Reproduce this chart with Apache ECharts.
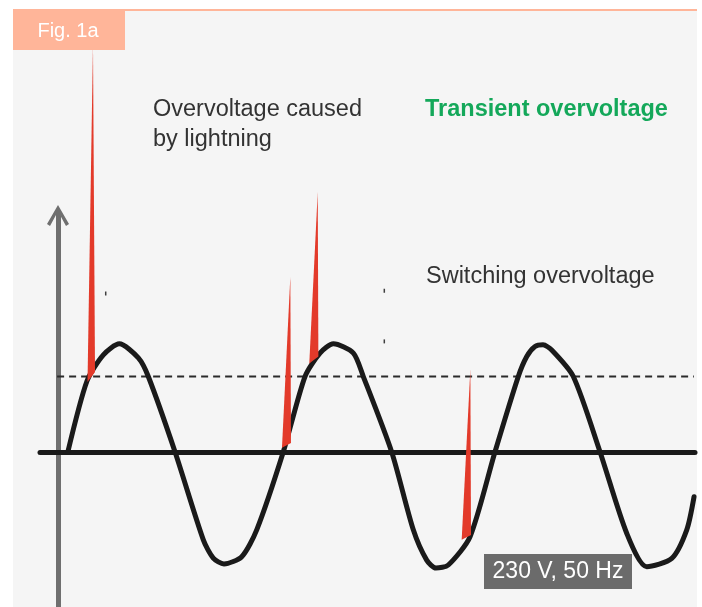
<!DOCTYPE html>
<html>
<head>
<meta charset="utf-8">
<script src="https://cdn.jsdelivr.net/npm/echarts@6/dist/echarts.min.js"></script>
<style>
  html, body { margin: 0; padding: 0; background: #fff; }
  #chart { width: 702px; height: 607px; }
</style>
</head>
<body>
<div id="chart"></div>
<script>
// mains voltage trace: time in ms, voltage in V
var waveTime = [0, 1.79, 3.32, 4.81, 6.59, 7.52, 10.02, 12.66, 13.59, 14.59, 16.25, 17.65,
  20.13, 22.16, 23.56, 24.81, 26.68, 27.61, 30.26, 32.28, 33.53, 34.40, 35.55, 37.58,
  39.91, 42.09, 42.88, 43.65, 44.40, 45.21, 47.23, 49.73, 52.22, 54.09, 56.43, 57.83, 58.51];
var waveVolt = [0, 206, 282, 314, 273, 219, 0, -255, -308, -325, -304, -226,
  0, 219, 287, 314, 287, 219, 0, -226, -314, -337, -328, -246,
  0, 219, 277, 306, 311, 296, 219, 0, -236, -333, -309, -226, -130];

// overvoltage spikes: tip, base left, base right (ms, V)
var spikeTip = [[2.35, 1180], [20.79, 509], [23.35, 755], [37.61, 240]];
var spikeBaseLeft = [[1.84, 203], [20.01, 12], [22.56, 257], [36.80, -255]];
var spikeBaseRight = [[2.54, 232], [20.85, 26], [23.41, 277], [37.67, -241]];

// dashed protection level
var levelVolt = 219;
var levelRange = [-1.0, 58.5];

// stray leader ticks left in the drawing
var stubPoints = [[3.54, 460], [29.57, 468], [29.57, 321]];

var chart = echarts.init(document.getElementById('chart'));

var waveData = waveTime.map(function (t, i) { return [t, waveVolt[i]]; });
var spikeData = spikeTip.map(function (p, i) {
  return [p[0], p[1], spikeBaseLeft[i][0], spikeBaseLeft[i][1], spikeBaseRight[i][0], spikeBaseRight[i][1]];
});

var textFont = 'Liberation Sans, Helvetica, Arial, sans-serif';

var option = {
  backgroundColor: '#fff',
  animation: false,
  grid: [
    { left: 40, right: 7, top: 0, bottom: 0 },
    { left: 58, top: 216, bottom: 0, width: 100 }
  ],
  xAxis: [{
    type: 'value', min: -2.6, max: 58.6,
    axisLine: { show: true, onZero: true, lineStyle: { color: '#1a1a1a', width: 5 } },
    axisTick: { show: false }, axisLabel: { show: false }, splitLine: { show: false }
  }, {
    gridIndex: 1, type: 'value', min: 0, max: 1, show: false
  }],
  yAxis: [{
    type: 'value', min: -450, max: 1312,
    axisLine: { show: false }, axisTick: { show: false }, axisLabel: { show: false }, splitLine: { show: false }
  }, {
    gridIndex: 1, type: 'value', min: 0, max: 1,
    axisLine: {
      show: true,
      symbol: ['none', 'path://M11,0 L22,19 L19,21 L13,10 L13,22 L9,22 L9,10 L3,21 L0,19 Z'],
      symbolSize: [22, 22],
      lineStyle: { color: '#6f6f6f', width: 5 }
    },
    axisTick: { show: false }, axisLabel: { show: false }, splitLine: { show: false }
  }],
  series: [{
    type: 'line',
    data: [[levelRange[0], levelVolt], [levelRange[1], levelVolt]],
    symbol: 'none',
    lineStyle: { color: '#2a2a2a', width: 2, type: [7, 5] },
    z: 1
  }, {
    type: 'line',
    data: waveData,
    symbol: 'none',
    smooth: 0.25,
    lineStyle: { color: '#1a1a1a', width: 5, join: 'round', cap: 'round' },
    z: 3
  }, {
    type: 'custom',
    data: spikeData,
    encode: { x: [0, 2, 4], y: [1, 3, 5] },
    renderItem: function (params, api) {
      return {
        type: 'polygon',
        shape: {
          points: [
            api.coord([api.value(0), api.value(1)]),
            api.coord([api.value(2), api.value(3)]),
            api.coord([api.value(4), api.value(5)])
          ]
        },
        style: { fill: '#e33a2a' }
      };
    },
    z: 4
  }, {
    type: 'scatter',
    data: stubPoints,
    symbol: 'rect',
    symbolSize: [1.5, 4],
    itemStyle: { color: '#111' },
    z: 2
  }],
  graphic: [
    { type: 'rect', z: -10, shape: { x: 13, y: 10, width: 684, height: 597 }, style: { fill: '#f5f5f5' } },
    { type: 'rect', z: -9, shape: { x: 13, y: 9, width: 684, height: 2 }, style: { fill: '#ffb599' } },
    { type: 'rect', z: 100, shape: { x: 13, y: 10, width: 112, height: 40 }, style: { fill: '#ffb599' } },
    { type: 'text', z: 101, style: { text: 'Fig. 1a', x: 68, y: 31, textAlign: 'center', textVerticalAlign: 'middle', font: '20px ' + textFont, fill: '#fff' } },
    { type: 'text', z: 101, style: { text: 'Overvoltage caused\nby lightning', x: 153, y: 95, textAlign: 'left', textVerticalAlign: 'top', lineHeight: 30, font: '23.5px ' + textFont, fill: '#333' } },
    { type: 'text', z: 101, style: { text: 'Transient overvoltage', x: 425, y: 110, textAlign: 'left', textVerticalAlign: 'middle', font: 'bold 23.5px ' + textFont, fill: '#14a85a' } },
    { type: 'text', z: 101, style: { text: 'Switching overvoltage', x: 426, y: 277, textAlign: 'left', textVerticalAlign: 'middle', font: '23.5px ' + textFont, fill: '#333' } },
    { type: 'rect', z: 100, shape: { x: 484, y: 554, width: 148, height: 35 }, style: { fill: '#6b6b6b' } },
    { type: 'text', z: 101, style: { text: '230 V, 50 Hz', x: 558, y: 572, textAlign: 'center', textVerticalAlign: 'middle', font: '23px ' + textFont, fill: '#fff' } }
  ]
};

chart.setOption(option);
window.addEventListener('resize', function () { chart.resize(); });
</script>
</body>
</html>
